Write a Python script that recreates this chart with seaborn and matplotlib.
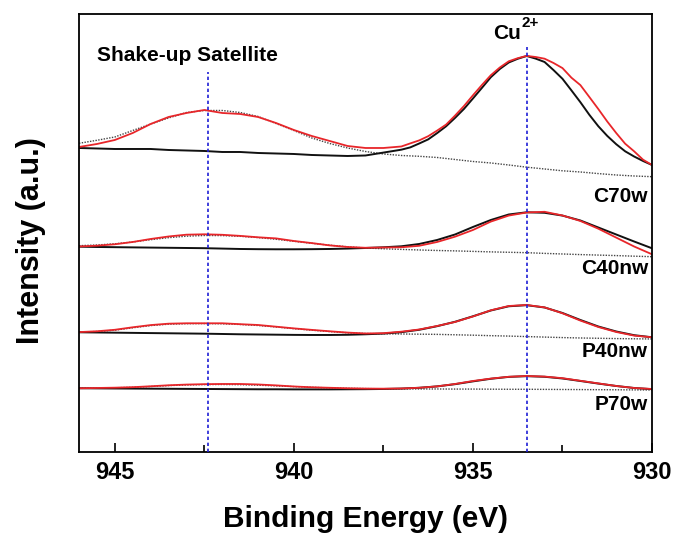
import numpy as np
import pandas as pd
import matplotlib
matplotlib.use("Agg")
import matplotlib.pyplot as plt
from matplotlib.ticker import MultipleLocator
import seaborn as sns

# ---------------- data ----------------
energy = [946.0, 945.5, 945.0, 944.5, 944.0, 943.5, 943.0, 942.5, 942.0, 941.5,
          941.0, 940.5, 940.0, 939.5, 939.0, 938.5, 938.0, 937.5, 937.0, 936.5,
          936.0, 935.5, 935.0, 934.5, 934.0, 933.5, 933.0, 932.5, 932.0, 931.5,
          931.0, 930.5, 930.0]

# C70w has a sharp main peak, so it was read on a finer grid below 937 eV
energy_c70w = [946.0, 945.5, 945.0, 944.5, 944.0, 943.5, 943.0, 942.5, 942.0, 941.5,
               941.0, 940.5, 940.0, 939.5, 939.0, 938.5, 938.0, 937.5,
               937.0, 936.75, 936.5, 936.25, 936.0, 935.75, 935.5, 935.25, 935.0,
               934.75, 934.5, 934.25, 934.0, 933.75, 933.5, 933.25, 933.0,
               932.75, 932.5, 932.25, 932.0, 931.75, 931.5, 931.25, 931.0,
               930.75, 930.5, 930.25, 930.0]

c70w_raw = [305, 308, 312, 319, 328, 335, 339, 342, 339, 338,
            335, 329, 322, 316, 311, 306, 304, 304,
            305.5, 308.6, 311.6, 315.8, 321.4, 327.4, 336.4, 346, 356.7,
            367, 376.8, 384.5, 390.7, 393.8, 396.1, 395, 393.3,
            389, 383.9, 374.3, 366.9, 355, 343, 330.5, 319,
            308.3, 300.7, 292.3, 287]
c70w_fit = [304, 303.5, 303, 303, 303, 302, 301.5, 301, 300, 300,
            299, 298.5, 298, 297, 296.5, 296, 296.5, 299.4,
            302.3, 304.6, 308.5, 312.6, 318.9, 325.7, 334.1, 343.1, 353.5,
            364.1, 374.8, 383, 389.5, 393.2, 396, 393.4, 390,
            381.9, 373.2, 361.6, 349.8, 337.2, 325.8, 316.1, 307.8,
            300.7, 295.5, 291, 287]
c70w_bg = [308.7, 311.7, 315, 321.5, 328, 334, 339.5, 341.5, 341.5, 339.5,
           335.5, 328.5, 321.5, 314, 308.5, 304, 300.5, 298, 296.5, 295.7,
           294.5, 292.5, 290.5, 289, 287, 284.8, 283, 281.2, 280, 278.4,
           277, 276, 275.3]

c40nw_raw = [205.5, 206.3, 207.7, 210, 213, 215.5, 217.3, 217.7, 217.2, 216.1,
             214.7, 213.6, 211, 208.9, 206.6, 205, 204.2, 204.5, 204.7, 206.2,
             210, 215.3, 222, 230.4, 236.4, 239.5, 240.2, 236.5, 231, 223.3,
             214.4, 205.5, 197.7]
c40nw_fit = [205.3, 205, 204.8, 204.6, 204.4, 204.2, 204, 203.8, 203.4, 203,
             202.8, 202.7, 202.7, 202.8, 203, 203.4, 204, 204.7, 205.7, 208,
             212, 217.5, 225, 232, 237.5, 239.7, 239.2, 236.4, 231.5, 224.5,
             217.5, 210.5, 203.7]
c40nw_bg = [206.3, 207, 208.2, 210, 212.3, 214.3, 215.8, 216.5, 216.4, 215.7,
            214.4, 212.7, 210.7, 208.7, 206.8, 205.2, 204, 203.2, 202.6, 202,
            201.5, 201.1, 200.6, 200.1, 199.7, 199.3, 198.6, 198, 197.4, 196.9,
            196.4, 195.8, 195.3]

p40nw_raw = [119.9, 120.7, 122.2, 124.7, 126.9, 128.3, 128.7, 128.7, 128.7, 127.8,
             127, 125.3, 123.6, 122.1, 120.7, 119.4, 118.5, 118.8, 120.3, 122.5,
             126, 130, 135.5, 141.7, 146, 147, 144.6, 138.7, 131.4, 125,
             120, 116.4, 114.7]
p40nw_fit = [119.7, 119.5, 119.3, 119.1, 118.9, 118.7, 118.5, 118.3, 118, 117.7,
             117.5, 117.3, 117.1, 117, 117, 117.2, 117.7, 118.4, 119.8, 122.2,
             125.8, 130.2, 135.7, 141.5, 145.7, 146.8, 144.5, 139, 132, 125.5,
             120.5, 116.8, 114.7]
p40nw_bg = [120, 120.5, 121.8, 124.2, 126.4, 127.8, 128.3, 128.4, 128.2, 127.5,
            126.5, 125, 123.3, 121.8, 120.4, 119.2, 118.5, 118.2, 118, 117.8,
            117.6, 117.2, 116.8, 116.3, 115.9, 115.4, 114.9, 114.4, 114, 113.7,
            113.4, 113.2, 113]

p70w_raw = [63.7, 64, 64.3, 64.8, 65.7, 66.7, 67.4, 67.8, 68, 68,
            67.5, 66.6, 65.5, 64.7, 64.2, 63.7, 63.4, 63.3, 63.5, 64.2,
            65.6, 68, 71, 73.4, 75.2, 76, 75.4, 73.8, 71.2, 68.6,
            66, 64, 63]
p70w_fit = [63.7, 63.6, 63.5, 63.4, 63.3, 63.2, 63.1, 63, 62.9, 62.8,
            62.7, 62.7, 62.6, 62.6, 62.6, 62.7, 62.8, 63, 63.4, 64.2,
            65.6, 67.8, 70.6, 73.2, 75.1, 75.8, 75.2, 73.5, 71, 68.4,
            66, 64, 62.8]
p70w_bg = [63.7, 63.9, 64.2, 64.7, 65.5, 66.4, 67, 67.4, 67.5, 67.3,
           66.8, 66.1, 65.4, 64.7, 64.1, 63.7, 63.4, 63.2, 63.1, 63,
           63, 62.9, 62.9, 62.8, 62.7, 62.7, 62.6, 62.5, 62.4, 62.3,
           62.2, 62.1, 62]

samples = ["C70w", "C40nw", "P40nw", "P70w"]
sample_energy = [energy_c70w, energy, energy, energy]
raw_series = [c70w_raw, c40nw_raw, p40nw_raw, p70w_raw]
fit_series = [c70w_fit, c40nw_fit, p40nw_fit, p70w_fit]
bg_series = [c70w_bg, c40nw_bg, p40nw_bg, p70w_bg]
label_y = [250.3, 178, 94.7, 42]

satellite_pos = 942.4
cu2_pos = 933.5
satellite_top = 380
cu2_top = 405

xticks = [945, 940, 935, 930]

# ---------------- style ----------------
sns.set_theme(style="ticks")
plt.rcParams["font.family"] = ["Liberation Sans", "DejaVu Sans"]
plt.rcParams["font.weight"] = "bold"
plt.rcParams["text.color"] = "black"
plt.rcParams["axes.labelcolor"] = "black"
plt.rcParams["xtick.color"] = "black"
plt.rcParams["lines.solid_joinstyle"] = "round"

fig = plt.figure(figsize=(6.73, 5.34), dpi=100)
ax = fig.add_axes([0.1174, 0.1536, 0.8514, 0.8202])

for name, e_s, raw, fit, bg in zip(samples, sample_energy, raw_series,
                                   fit_series, bg_series):
    df_bg = pd.DataFrame({"energy": energy, "bg": bg})
    df_s = pd.DataFrame({"energy": e_s, "raw": raw, "fit": fit})
    sns.lineplot(data=df_bg, x="energy", y="bg", ax=ax, color="#444444",
                 linewidth=1.0, linestyle=(0, (1, 1)), sort=False)
    sns.lineplot(data=df_s, x="energy", y="fit", ax=ax, color="#111111",
                 linewidth=1.4, sort=False)
    sns.lineplot(data=df_s, x="energy", y="raw", ax=ax, color="#e8262a",
                 linewidth=1.3, sort=False)

ax.vlines([satellite_pos, cu2_pos], 0, [satellite_top, cu2_top],
          colors="#1f1fd6", linestyles=(0, (2, 1.6)), linewidth=1.2, zorder=5)

ax.set_xlim(946, 930)
ax.set_ylim(0, 438)

ax.xaxis.set_major_locator(MultipleLocator(5))
ax.xaxis.set_minor_locator(MultipleLocator(2.5))
ax.set_xticks(xticks)
ax.set_xticklabels([str(t) for t in xticks])
ax.set_yticks([])
ax.tick_params(axis="x", which="major", direction="in", length=6.5, width=1.2,
               pad=6.5, labelsize=17, colors="black", top=False, bottom=True)
ax.tick_params(axis="x", which="minor", direction="in", length=4.8, width=1.2,
               top=False, bottom=True)
for lab in ax.get_xticklabels():
    lab.set_fontweight("bold")

for sp in ax.spines.values():
    sp.set_visible(True)
    sp.set_color("black")
    sp.set_linewidth(1.3)

ax.set_xlabel("Binding Energy (eV)", fontsize=21.5, fontweight="bold")
ax.set_ylabel("Intensity (a.u.)", fontsize=22, fontweight="bold")
ax.xaxis.set_label_coords(0.5, -0.121)
ax.yaxis.set_label_coords(-0.057, 0.482)

for name, ly in zip(samples, label_y):
    ax.text(930.11, ly, name, ha="right", va="baseline", fontsize=15,
            fontweight="bold")

ax.text(945.5, 391, "Shake-up Satellite", ha="left", va="baseline",
        fontsize=15, fontweight="bold")
ax.text(934.43, 412.7, "Cu", ha="left", va="baseline", fontsize=15,
        fontweight="bold")
ax.text(933.64, 425.3, "2+", ha="left", va="baseline", fontsize=11,
        fontweight="bold")

fig.savefig("out.png", dpi=100, facecolor="white")
